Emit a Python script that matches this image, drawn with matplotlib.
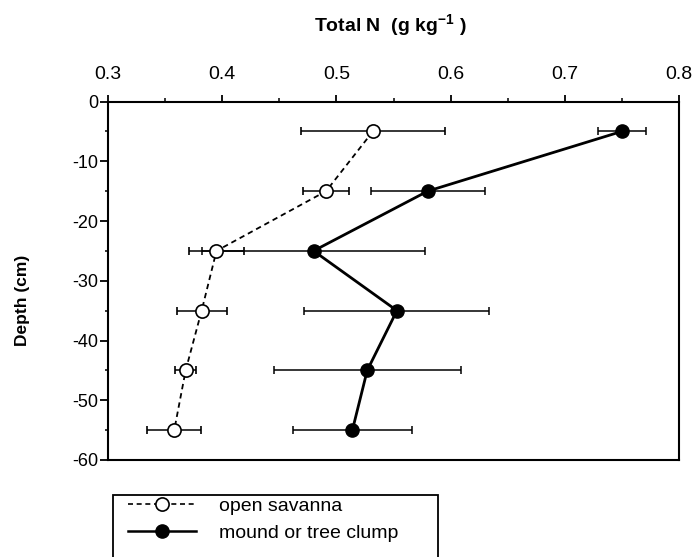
import matplotlib
matplotlib.use("Agg")
import matplotlib.pyplot as plt
from matplotlib.lines import Line2D
from matplotlib.patches import Rectangle

plt.rcParams['font.family'] = ['Liberation Sans', 'DejaVu Sans']
plt.rcParams['mathtext.fontset'] = 'custom'
plt.rcParams['mathtext.rm'] = 'Liberation Sans'
plt.rcParams['mathtext.bf'] = 'Liberation Sans:bold'
plt.rcParams['axes.unicode_minus'] = False

# depth (cm) of each sampling layer midpoint
depth = [-5, -15, -25, -35, -45, -55]

# open savanna
savanna_n = [0.532, 0.491, 0.395, 0.382, 0.368, 0.358]
savanna_err = [0.063, 0.020, 0.024, 0.022, 0.009, 0.0235]

# mound or tree clump
mound_n = [0.750, 0.580, 0.480, 0.553, 0.527, 0.514]
mound_err = [0.021, 0.050, 0.098, 0.081, 0.082, 0.052]

x_ticks = [0.3, 0.4, 0.5, 0.6, 0.7, 0.8]
x_minor = [0.35, 0.45, 0.55, 0.65, 0.75]
y_ticks = [0, -10, -20, -30, -40, -50, -60]
y_minor = [-5, -15, -25, -35, -45, -55]

W, H = 696, 557
fig = plt.figure(figsize=(W / 100, H / 100), dpi=100)
ax = fig.add_axes([108 / W, 1 - 460 / H, (679 - 108) / W, (460 - 101.5) / H])

ax.errorbar(mound_n, depth, xerr=mound_err, color='black', lw=2.0,
            marker='o', ms=9.5, mfc='black', mec='black',
            elinewidth=1.1, capsize=3.2, capthick=1.1, zorder=2)
ax.errorbar(savanna_n, depth, xerr=savanna_err, color='black', lw=1.3,
            ls=(0, (3, 2.2)), marker='o', ms=9.5, mfc='white', mec='black',
            mew=1.2, elinewidth=1.1, capsize=3.2, capthick=1.1, zorder=3)

ax.set_xlim(0.3, 0.8)
ax.set_ylim(-60, 0)
ax.set_xticks(x_ticks)
ax.set_xticklabels([f"{v:.1f}" for v in x_ticks])
ax.set_xticks(x_minor, minor=True)
ax.set_yticks(y_ticks)
ax.set_yticklabels([str(v) for v in y_ticks])
ax.set_yticks(y_minor, minor=True)
ax.xaxis.tick_top()
ax.tick_params(axis='x', which='major', direction='out', length=5, width=1.3,
               labelsize=14, pad=8)
ax.tick_params(axis='x', which='minor', direction='out', length=3, width=1.1)
ax.tick_params(axis='y', which='major', direction='out', length=6, width=1.3,
               labelsize=13, pad=1)
ax.tick_params(axis='y', which='minor', direction='out', length=2.5, width=1.1)
for s in ax.spines.values():
    s.set_linewidth(1.5)

fig.text(390 / W, 1 - 26 / H, r'Total N  (g kg$^{\mathbf{-1}}$ )',
         ha='center', va='center', fontsize=14, fontweight='bold')
fig.text(22 / W, 1 - 300 / H, 'Depth (cm)', rotation=90,
         ha='center', va='center', fontsize=12.5, fontweight='bold')

# legend box (runs off the bottom edge like the scan)
fig.patches.append(Rectangle((112.7 / W, -0.05), (438 - 112.7) / W,
                             (1 - 495 / H) + 0.05, transform=fig.transFigure,
                             fill=False, lw=1.3, ec='black'))
handles = [
    Line2D([], [], color='black', lw=1.2, ls=(0, (3, 2.2)), marker='o',
           ms=9.5, mfc='white', mec='black', mew=1.2),
    Line2D([], [], color='black', lw=1.8, marker='o', ms=9.5,
           mfc='black', mec='black'),
]
fig.legend(handles, ['open savanna', 'mound or tree clump'],
           loc='upper left', bbox_to_anchor=(128 / W, 1 - 497 / H),
           frameon=False, fontsize=14, handlelength=3.5, handletextpad=1.2,
           labelspacing=0.5, borderpad=0, borderaxespad=0, numpoints=1)

fig.savefig('out.png', dpi=100)
